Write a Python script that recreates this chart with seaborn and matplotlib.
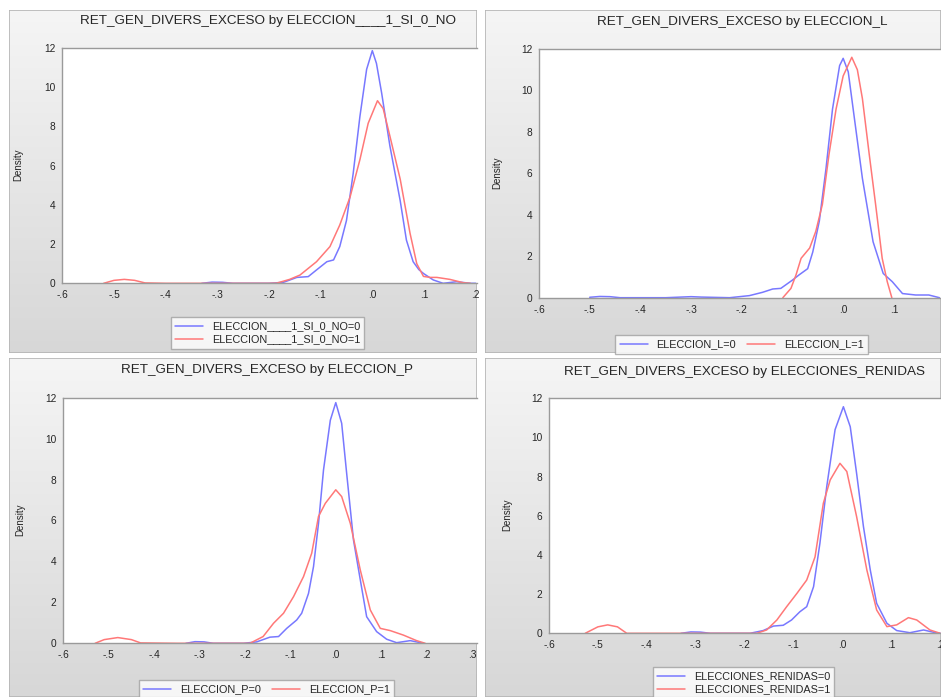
import numpy as np
import pandas as pd
import matplotlib
matplotlib.use("Agg")
import matplotlib.pyplot as plt
import seaborn as sns
from matplotlib.patches import Rectangle
from matplotlib.colors import LinearSegmentedColormap

# density curves (group =0 blue, group =1 red)
# panel 1: ELECCION____1_SI_0_NO
P1_X0 = [-0.33, -0.31, -0.29, -0.27, -0.24, -0.2, -0.172, -0.146, -0.124, -0.108, -0.088, -0.075, -0.063,
         -0.05, -0.037, -0.024, -0.011, 0.0, 0.008, 0.018, 0.034, 0.054, 0.066, 0.079, 0.09, 0.099, 0.118,
         0.137, 0.163, 0.19, 0.2]
P1_D0 = [0, 0.06, 0.05, 0, 0, 0, 0.05, 0.3, 0.34, 0.68, 1.1, 1.19, 1.87, 3.2, 5.6, 8.5, 10.9, 11.85, 11.2,
         9.7, 7.0, 4.2, 2.2, 1.1, 0.7, 0.5, 0.17, 0.0, 0.08, 0.0, 0.0]
P1_X1 = [-0.52, -0.5, -0.48, -0.46, -0.44, -0.4, -0.3, -0.2, -0.185, -0.16, -0.14, -0.108, -0.082, -0.063,
         -0.043, -0.024, -0.008, 0.01, 0.021, 0.034, 0.054, 0.073, 0.086, 0.099, 0.112, 0.125, 0.15, 0.176, 0.19]
P1_D1 = [0, 0.15, 0.2, 0.15, 0.02, 0, 0, 0, 0.01, 0.2, 0.42, 1.1, 1.87, 2.97, 4.4, 6.3, 8.15, 9.3, 8.9, 7.5,
         5.3, 2.55, 1.0, 0.35, 0.3, 0.3, 0.2, 0.03, 0]

# panel 2: ELECCION_L
P2_X0 = [-0.5, -0.48, -0.46, -0.44, -0.35, -0.32, -0.3, -0.28, -0.224, -0.185, -0.159, -0.139, -0.123, -0.1,
         -0.087, -0.07, -0.06, -0.047, -0.034, -0.021, -0.007, 0.0, 0.01, 0.023, 0.038, 0.059, 0.079, 0.097,
         0.117, 0.143, 0.169, 0.19]
P2_D0 = [0.02, 0.06, 0.05, 0.0, 0.0, 0.03, 0.05, 0.03, 0.0, 0.1, 0.26, 0.42, 0.45, 0.85, 1.1, 1.4, 2.2, 3.7,
         6.2, 9.1, 11.2, 11.55, 10.9, 8.5, 5.75, 2.7, 1.17, 0.77, 0.2, 0.13, 0.13, 0.0]
P2_X1 = [-0.119, -0.103, -0.093, -0.083, -0.066, -0.054, -0.041, -0.028, -0.014, 0.0, 0.017, 0.028, 0.038,
         0.051, 0.064, 0.077, 0.087, 0.096]
P2_D1 = [0, 0.45, 1.1, 1.9, 2.4, 3.2, 4.5, 6.9, 9.1, 10.7, 11.6, 11.0, 9.6, 7.0, 4.5, 1.9, 0.77, 0]

# panel 3: ELECCION_P
P3_X0 = [-0.33, -0.31, -0.29, -0.27, -0.203, -0.174, -0.145, -0.126, -0.108, -0.086, -0.075, -0.06, -0.049,
         -0.038, -0.027, -0.012, 0.0, 0.013, 0.024, 0.039, 0.054, 0.068, 0.09, 0.112, 0.134, 0.164, 0.193]
P3_D0 = [0, 0.08, 0.07, 0, 0, 0.07, 0.3, 0.33, 0.73, 1.14, 1.47, 2.44, 3.75, 5.86, 8.47, 10.9, 11.76, 10.75,
         8.3, 5.05, 3.1, 1.3, 0.57, 0.2, 0.03, 0.13, 0]
P3_X1 = [-0.53, -0.51, -0.48, -0.45, -0.43, -0.35, -0.25, -0.189, -0.16, -0.137, -0.115, -0.093, -0.071,
         -0.053, -0.038, -0.023, 0.0, 0.013, 0.032, 0.054, 0.076, 0.098, 0.12, 0.149, 0.178, 0.197]
P3_D1 = [0, 0.18, 0.28, 0.18, 0.02, 0, 0, 0, 0.33, 0.98, 1.47, 2.28, 3.26, 4.4, 6.2, 6.84, 7.5, 7.17, 5.86,
         3.58, 1.63, 0.73, 0.62, 0.4, 0.13, 0]

# panel 4: ELECCIONES_RENIDAS
P4_X0 = [-0.33, -0.31, -0.29, -0.27, -0.189, -0.162, -0.141, -0.121, -0.104, -0.087, -0.073, -0.059, -0.046,
         -0.032, -0.015, 0.002, 0.016, 0.029, 0.043, 0.057, 0.07, 0.091, 0.111, 0.138, 0.166, 0.19, 0.2]
P4_D0 = [0, 0.07, 0.06, 0, 0, 0.14, 0.37, 0.41, 0.68, 1.1, 1.36, 2.38, 4.6, 7.5, 10.4, 11.57, 10.55, 8.17,
         5.45, 3.23, 1.53, 0.51, 0.14, 0.03, 0.17, 0.03, 0]
P4_X1 = [-0.526, -0.5, -0.48, -0.46, -0.441, -0.35, -0.25, -0.175, -0.155, -0.134, -0.114, -0.093, -0.073,
         -0.056, -0.039, -0.025, -0.005, 0.009, 0.029, 0.05, 0.07, 0.091, 0.111, 0.135, 0.152, 0.179, 0.2]
P4_D1 = [0, 0.33, 0.43, 0.33, 0, 0, 0, 0, 0.17, 0.68, 1.36, 2.04, 2.72, 3.9, 6.64, 7.83, 8.68, 8.26, 5.96,
         3.23, 1.19, 0.34, 0.43, 0.8, 0.68, 0.17, 0]

SERIES = "RET_GEN_DIVERS_EXCESO"
GROUPS = ["ELECCION____1_SI_0_NO", "ELECCION_L", "ELECCION_P", "ELECCIONES_RENIDAS"]
Y_TICKS = [0, 2, 4, 6, 8, 10, 12]

W, H = 941, 697
BLUE, RED = "#7878ff", "#ff7878"
TXT = "#262626"

sns.set_style("white")
plt.rcParams["font.family"] = ["Liberation Sans", "DejaVu Sans"]


def px_rect(x0, y0, x1, y1):
    return [x0 / W, 1 - y1 / H, (x1 - x0) / W, (y1 - y0) / H]


def tick_lab(v):
    s = f"{v:.1f}"
    if s in ("0.0", "-0.0"):
        return ".0"
    return s.replace("0.", ".")


grad_cmap = LinearSegmentedColormap.from_list("bg", ["#f5f5f5", "#d7d7d7"])


def draw_panel(fig, box, axbox, xmax, title_xy, ylab_xy, legend_xy, ncol, group, x0, d0, x1, d1):
    bg = fig.add_axes(px_rect(*box), zorder=0)
    bg.imshow(np.linspace(0, 1, 256).reshape(-1, 1), aspect="auto", cmap=grad_cmap,
              extent=[0, 1, 0, 1], vmin=0, vmax=1)
    bg.add_patch(Rectangle((0, 0), 1, 1, transform=bg.transAxes, fill=False, ec="#b5b5b5", lw=1.2))
    bg.set_axis_off()

    ax = fig.add_axes(px_rect(*axbox), zorder=1)
    ax.set_facecolor("white")
    df = pd.DataFrame({
        "x": x0 + x1,
        "density": d0 + d1,
        "group": [f"{group}=0"] * len(x0) + [f"{group}=1"] * len(x1),
    })
    sns.lineplot(data=df, x="x", y="density", hue="group", palette=[BLUE, RED],
                 sort=False, estimator=None, lw=1.1, ax=ax)
    ax.set_xlim(-0.6, xmax)
    ax.set_ylim(0, 12)
    xt = np.round(np.arange(-0.6, xmax + 1e-9, 0.1), 1)
    ax.set_xticks(xt)
    ax.set_xticklabels([tick_lab(v) for v in xt])
    ax.set_yticks(Y_TICKS)
    ax.set_xlabel("")
    ax.set_ylabel("")
    ax.tick_params(direction="out", length=3, width=0.8, color="#808080",
                   labelsize=7.3, labelcolor=TXT, pad=2)
    for side in ("top", "left", "bottom"):
        ax.spines[side].set_color("#9a9a9a")
        ax.spines[side].set_linewidth(1.0)
    ax.spines["right"].set_visible(False)

    fig.text(title_xy[0] / W, 1 - title_xy[1] / H, f"{SERIES} by {group}",
             ha="center", va="center", fontsize=9.7, color=TXT)
    fig.text(ylab_xy[0] / W, 1 - ylab_xy[1] / H, "Density", rotation=90,
             ha="center", va="center", fontsize=7, color=TXT)

    sns.move_legend(ax, "upper center", bbox_to_anchor=(legend_xy[0] / W, 1 - legend_xy[1] / H),
                    bbox_transform=fig.transFigure, ncol=ncol, title=None, frameon=True,
                    fancybox=False, edgecolor="#a0a0a0", fontsize=7.8, handlelength=2.6,
                    borderpad=0.4, labelspacing=0.3, columnspacing=1.0, handletextpad=0.8,
                    borderaxespad=0)
    leg = ax.get_legend()
    leg.get_frame().set_linewidth(1.0)
    for t in leg.get_texts():
        t.set_color(TXT)


fig = plt.figure(figsize=(W / 100, H / 100), dpi=100)
fig.patch.set_facecolor("white")

draw_panel(fig, (9, 10, 477, 353), (62.3, 47.7, 477, 283.3), 0.2026, (268, 21), (18, 165), (267.5, 317), 1,
           GROUPS[0], P1_X0, P1_D0, P1_X1, P1_D1)
draw_panel(fig, (485, 10, 941, 353), (539, 49, 941, 297.7), 0.193, (742, 22), (497, 173), (741.5, 335), 2,
           GROUPS[1], P2_X0, P2_D0, P2_X1, P2_D1)
draw_panel(fig, (9, 358, 477, 697), (63.3, 397.7, 477, 643.3), 0.311, (267, 370), (20, 520), (266.5, 680), 2,
           GROUPS[2], P3_X0, P3_D0, P3_X1, P3_D1)
draw_panel(fig, (485, 358, 941, 697), (549, 398.3, 941, 633.3), 0.2016, (744, 372), (507, 515), (743.5, 667), 1,
           GROUPS[3], P4_X0, P4_D0, P4_X1, P4_D1)

fig.savefig("out.png", dpi=100)
